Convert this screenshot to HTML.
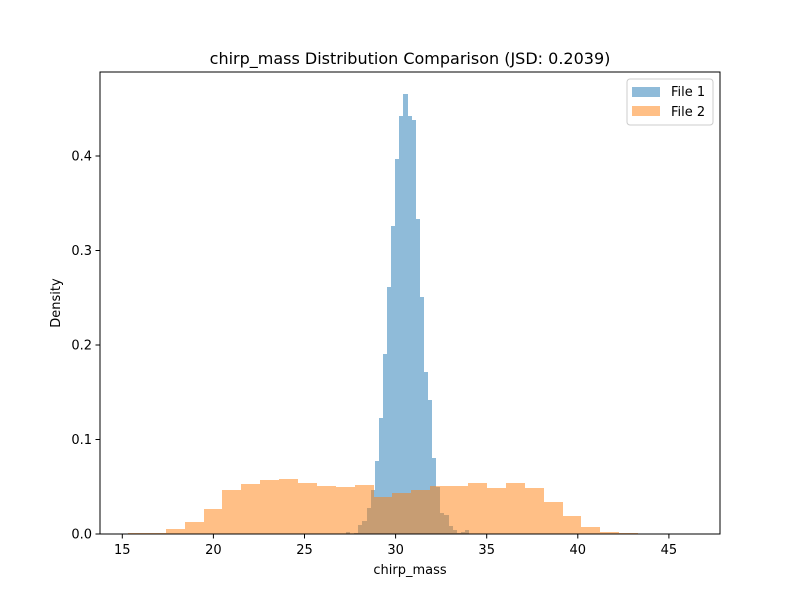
<!DOCTYPE html>
<html><head><meta charset="utf-8"><style>
body{margin:0;background:#fff}
svg text{font-family:"DejaVu Sans","Liberation Sans",sans-serif;fill:#000}
</style></head><body>
<svg id="c" width="800" height="600" xmlns="http://www.w3.org/2000/svg">
<rect width="800" height="600" fill="#fff"/>
<g id="bars" shape-rendering="crispEdges"></g>
<rect x="100" y="72" width="620" height="462" fill="none" stroke="#000" stroke-width="1"/>
<g id="axes"></g>
<text x="410" y="64" font-size="16" text-anchor="middle">chirp_mass Distribution Comparison (JSD: 0.2039)</text>
<text x="410" y="574" font-size="13" text-anchor="middle">chirp_mass</text>
<text x="60" y="303" font-size="13" text-anchor="middle" transform="rotate(-90 60 303)">Density</text>
<g>
<rect x="627" y="79" width="86" height="46" rx="3" fill="#fff" fill-opacity="0.8" stroke="#ccc"/>
<rect x="632" y="87" width="28" height="10" fill="#1f77b4" fill-opacity="0.5"/>
<text x="671" y="96" font-size="13">File 1</text>
<rect x="632" y="106" width="28" height="10" fill="#ff7f0e" fill-opacity="0.5"/>
<text x="671" y="116" font-size="13">File 2</text>
</g>
</svg>
<script>
const file1Start = 27.28;
const file1Width = 0.225;
const file1Values = [0.002,0.0005,0.001,0.01,0.014,0.028,0.047,0.077,0.123,0.190,0.261,0.326,0.397,0.442,0.466,0.442,0.438,0.333,0.251,0.171,0.142,0.080,0.05,0.022,0.020,0.0085,0.004,0.001,0.002,0.004];
const file2Start = 15.31;
const file2Width = 1.037;
const file2Values = [0.001,0.001,0.005,0.013,0.026,0.047,0.053,0.057,0.058,0.054,0.051,0.050,0.052,0.039,0.043,0.047,0.051,0.051,0.054,0.049,0.054,0.049,0.034,0.019,0.0075,0.002,0.001,0.0005,0.0003];
const xTicks = [15,20,25,30,35,40,45];
const yTicks = [0.0,0.1,0.2,0.3,0.4];
const NS="http://www.w3.org/2000/svg";
const X = v => 122.3 + (v-15)*18.22;
const Y = v => 534 - v*945;
const bars = document.getElementById('bars');
const axes = document.getElementById('axes');
function drawSeries(start,w,vals,color,name){
  vals.forEach((v,i)=>{
    const r=document.createElementNS(NS,'rect');
    const x0=Math.round(X(start+i*w)), x1=Math.round(X(start+(i+1)*w));
    const y0=Math.round(Y(v));
    r.setAttribute('x',x0);r.setAttribute('width',x1-x0);
    r.setAttribute('y',y0);r.setAttribute('height',534-y0);
    r.setAttribute('fill',color);r.setAttribute('fill-opacity','0.5');
    
    
    bars.appendChild(r);
  });
}
drawSeries(file1Start,file1Width,file1Values,'#1f77b4','file-1');
drawSeries(file2Start,file2Width,file2Values,'#ff7f0e','file-2');
xTicks.forEach(t=>{
  const l=document.createElementNS(NS,'line');
  l.setAttribute('x1',X(t));l.setAttribute('x2',X(t));l.setAttribute('y1',534);l.setAttribute('y2',538.5);l.setAttribute('stroke','#000');
  
  
  axes.appendChild(l);
  const s=document.createElementNS(NS,'text');
  s.setAttribute('x',X(t));s.setAttribute('y',554);s.setAttribute('font-size','13');s.setAttribute('text-anchor','middle');
  s.textContent=t;
  
  
  axes.appendChild(s);
});
yTicks.forEach(t=>{
  const l=document.createElementNS(NS,'line');
  l.setAttribute('x1',95.5);l.setAttribute('x2',100);l.setAttribute('y1',Y(t));l.setAttribute('y2',Y(t));l.setAttribute('stroke','#000');
  
  
  axes.appendChild(l);
  const s=document.createElementNS(NS,'text');
  s.setAttribute('x',92);s.setAttribute('y',Y(t)+4.5);s.setAttribute('font-size','13');s.setAttribute('text-anchor','end');
  s.textContent=t.toFixed(1);
  
  
  axes.appendChild(s);
});
</script>
</body></html>
